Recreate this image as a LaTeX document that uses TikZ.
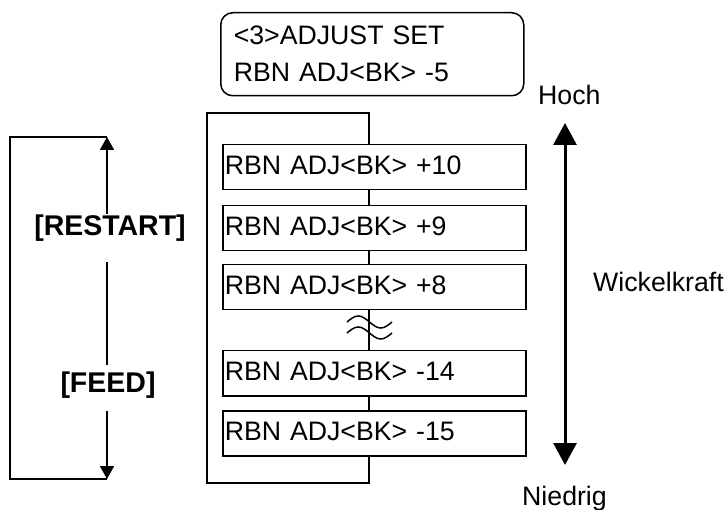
\documentclass[tikz,border=0pt]{standalone}
\usepackage{fontspec}
\setmainfont{Liberation Sans}
\usetikzlibrary{arrows.meta}
\begin{document}
\begin{tikzpicture}[x=1pt,y=-1pt,
  every node/.style={font=\fontsize{26.7}{37}\selectfont},
  boxst/.style={draw,line width=1.5pt,anchor=north west,minimum height=45pt,
    text width=299pt,inner xsep=2pt,inner ysep=0pt,text height=20pt,text depth=6pt,align=left},
  lbl/.style={inner sep=0pt,anchor=base},
  boldlbl/.style={lbl,font=\fontsize{28.5}{32}\selectfont\bfseries},
  thinline/.style={line width=1.5pt},
  smalltip/.style={-{Triangle[length=13pt,width=14pt]}},
  bigtips/.style={line width=3pt,{Triangle[length=22pt,width=23pt]}-{Triangle[length=22pt,width=23pt]}}]
\useasboundingbox (0,0) rectangle (728,510);

% top display
\node[draw,line width=1.5pt,rounded corners=12pt,anchor=north west,minimum height=83pt,
  text width=277pt,inner xsep=13pt,inner ysep=0pt,align=left] (disp) at (220,12)
  {<3>ADJUST SET\\RBN ADJ<BK> -5};

% spine and frame
\coordinate (sp) at (369,113);
\coordinate (fbl) at (207,483);

\node[boxst] (b10) at (222,144) {RBN ADJ<BK> +10};
\node[boxst] (b9)  at (222,205) {RBN ADJ<BK> +9};
\node[boxst] (b8)  at (222,264) {RBN ADJ<BK> +8};
\node[boxst] (b14) at (222,350) {RBN ADJ<BK> -14};
\node[boxst] (b15) at (222,410) {RBN ADJ<BK> -15};

\draw[thinline] (b15.south -| sp) -- (fbl -| sp) -- (fbl) -- (fbl |- sp) -- (sp) -- (b10.north -| sp);
\draw[thinline] (b10.south -| sp) -- (b9.north -| sp);
\draw[thinline] (b9.south -| sp) -- (b8.north -| sp);
\draw[thinline] (b8.south -| sp) -- (b14.north -| sp);
\draw[thinline] (b14.south -| sp) -- (b15.north -| sp);

% break mark
\draw[line width=1.5pt] (347,322) sin (358.25,316) cos (369.5,322) sin (380.75,328) cos (392,322);
\draw[line width=1.5pt] (347,333) sin (358.25,327) cos (369.5,333) sin (380.75,339) cos (392,333);

% left bracket
\coordinate (ltop) at (107,137);
\coordinate (lbot) at (107,479);
\node[boldlbl] (restart) at (110,236) {[RESTART]};
\node[boldlbl] (feed) at (108,392) {[FEED]};
\draw[thinline] (ltop) -- (10,137) -- (10,479) -- (lbot);
\draw[thinline,smalltip,shorten <=1pt] (restart.north -| ltop) -- (ltop);
\draw[thinline,shorten <=20pt,shorten >=6pt] (restart.south -| ltop) -- (feed.north -| ltop);
\draw[thinline,smalltip,shorten <=13pt] (feed.south -| ltop) -- (lbot);

% right scale
\coordinate (ra) at (565,123);
\coordinate (rb) at (565,465);
\draw[bigtips] (rb) -- (ra);
\node[lbl,anchor=base west] (hoch) at (538,105) {Hoch};
\node[lbl,anchor=base west] (wk) at (593,292) {Wickelkraft};
\node[lbl,anchor=base west] (nied) at (522,505) {Niedrig};
\end{tikzpicture}
\end{document}
